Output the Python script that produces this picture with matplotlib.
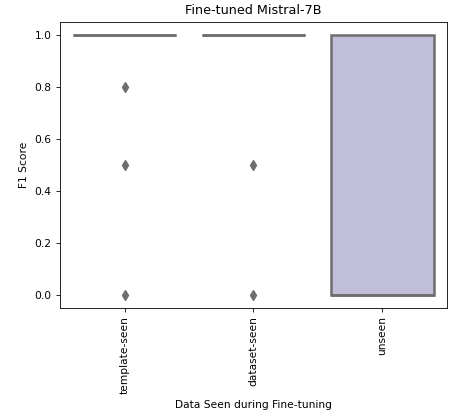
import matplotlib
matplotlib.use("Agg")
import matplotlib.pyplot as plt

# ── Data ──────────────────────────────────────────────────────────────────────
CATEGORIES = ["template-seen", "dataset-seen", "unseen"]
TEMPLATE_SEEN = [1.0] * 20 + [0.8, 0.5, 0.0]
DATASET_SEEN = [1.0] * 20 + [0.5, 0.0]
UNSEEN = [0.0, 0.0, 0.0, 1.0, 1.0]

FILLS = ["#e3e1ee", "#d2d0e5", "#c1bed9"]
LINE = "#6e6e6e"

# ── Plot ──────────────────────────────────────────────────────────────────────
fig, ax = plt.subplots(figsize=(4.55, 4.16), dpi=100)
fig.subplots_adjust(left=0.132, right=0.982, top=0.947, bottom=0.26)

bp = ax.boxplot(
    [TEMPLATE_SEEN, DATASET_SEEN, UNSEEN],
    positions=range(len(CATEGORIES)),
    widths=0.8,
    patch_artist=True,
    whis=1.5,
    boxprops=dict(edgecolor=LINE, linewidth=1.8),
    medianprops=dict(color=LINE, linewidth=1.8),
    whiskerprops=dict(color=LINE, linewidth=1.8),
    capprops=dict(color=LINE, linewidth=1.8),
    capwidths=0,
    flierprops=dict(marker="d", markerfacecolor=LINE, markeredgecolor=LINE,
                    markersize=5.5, linestyle="none"),
)
for patch, c in zip(bp["boxes"], FILLS):
    patch.set_facecolor(c)

ax.set_xlim(-0.5, 2.5)
ax.set_ylim(-0.05, 1.05)
ax.set_xticks(range(len(CATEGORIES)))
ax.set_xticklabels(CATEGORIES, rotation=90, fontsize=7.7)
ax.set_yticks([0.0, 0.2, 0.4, 0.6, 0.8, 1.0])
ax.set_yticklabels(["0.0", "0.2", "0.4", "0.6", "0.8", "1.0"], fontsize=7.7)
ax.tick_params(length=2.7, width=0.6)
for s in ax.spines.values():
    s.set_linewidth(0.6)

ax.set_xlabel("Data Seen during Fine-tuning", fontsize=7.7)
ax.set_ylabel("F1 Score", fontsize=7.7)
ax.set_title("Fine-tuned Mistral-7B", fontsize=9.2)

fig.savefig("out.png", dpi=100)
